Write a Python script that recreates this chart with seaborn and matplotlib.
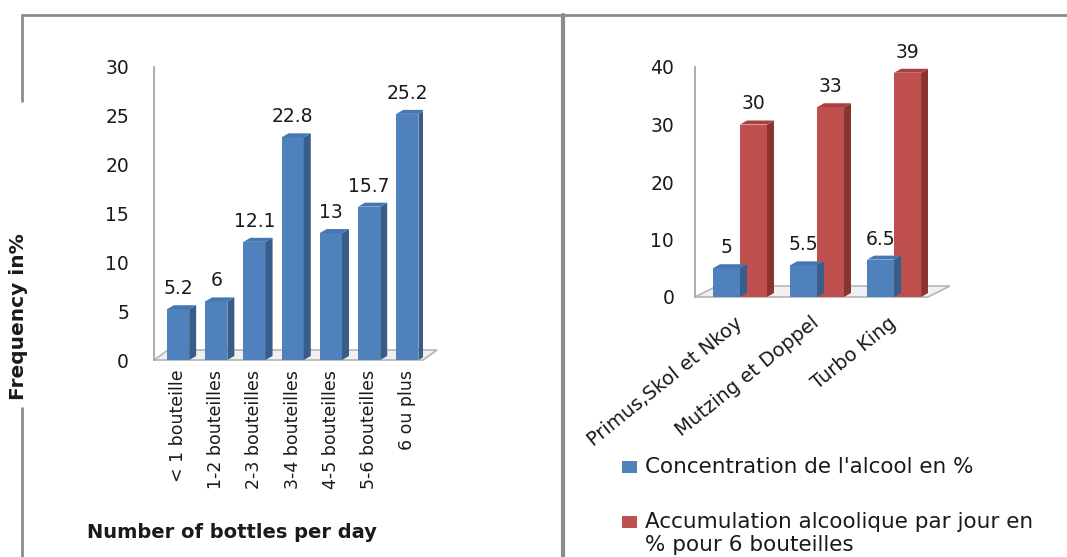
import numpy as np
import pandas as pd
import seaborn as sns
import matplotlib.pyplot as plt
from matplotlib.patches import Polygon, Rectangle
from matplotlib.lines import Line2D

# data
bottle_cats = ["< 1 bouteille", "1-2 bouteilles", "2-3 bouteilles", "3-4 bouteilles",
               "4-5 bouteilles", "5-6 bouteilles", "6 ou plus"]
bottle_freq = [5.2, 6, 12.1, 22.8, 13, 15.7, 25.2]

brands = ["Primus,Skol et Nkoy", "Mutzing et Doppel", "Turbo King"]
concentration = [5, 5.5, 6.5]
accumulation = [30, 33, 39]
series_names = ["Concentration de l'alcool en %",
                "Accumulation alcoolique par jour en\n% pour 6 bouteilles"]

BLUE, BLUE_SIDE, BLUE_TOP = "#4F81BD", "#385D8A", "#4777B0"
RED, RED_SIDE, RED_TOP = "#C0504D", "#8A3432", "#A8413E"
GRID = "#8c8c8c"
TXT = "#1a1a1a"

W, H = 1067, 557
sns.set_theme(style="white")
plt.rcParams['font.family'] = ['DejaVu Sans']

fig = plt.figure(figsize=(W / 100, H / 100), dpi=100)
fig.patch.set_facecolor("white")


def px_axes(x0, y0, x1, y1):
    # pixel box (top-left origin) -> figure axes
    return fig.add_axes([x0 / W, 1 - y1 / H, (x1 - x0) / W, (y1 - y0) / H])


def data_per_px(ax):
    (a, b), (c, d) = ax.transData.transform([(0, 0), (1, 1)])
    return 1 / (c - a), 1 / (d - b)


def add_depth(ax, patches, sides, tops, ddx, ddy):
    ux, uy = data_per_px(ax)
    dx, dy = ddx * ux, ddy * uy
    for p, sc, tc in zip(patches, sides, tops):
        x0, y0, w, h = p.get_x(), p.get_y(), p.get_width(), p.get_height()
        ax.add_patch(Polygon([(x0 + w, y0), (x0 + w + dx, y0 + dy), (x0 + w + dx, y0 + h + dy),
                              (x0 + w, y0 + h)], closed=True, fc=sc, ec="none", zorder=3))
        ax.add_patch(Polygon([(x0, y0 + h), (x0 + w, y0 + h), (x0 + w + dx, y0 + h + dy),
                              (x0 + dx, y0 + h + dy)], closed=True, fc=tc, ec="none", zorder=3))


def add_floor(ax, fdx, fdy):
    ux, uy = data_per_px(ax)
    xa, xb = ax.get_xlim()
    ya = ax.get_ylim()[0]
    dx, dy = fdx * ux, fdy * uy
    ax.add_patch(Polygon([(xa, ya), (xb, ya), (xb + dx, ya + dy), (xa + dx, ya + dy)], closed=True,
                         fc="#f0f0f0", ec="#b5b5b5", lw=1.2, zorder=1, clip_on=False))


def style_axis(ax):
    for s in ["top", "right", "bottom"]:
        ax.spines[s].set_visible(False)
    ax.spines["left"].set_color("#a6a6a6")
    ax.spines["left"].set_linewidth(1.3)
    ax.set_xlabel("")
    ax.set_ylabel("")
    ax.set_facecolor("none")


# left chart
ax1 = px_axes(154, 67, 423, 360)
sns.barplot(x=bottle_cats, y=bottle_freq, color=BLUE, saturation=1, width=0.58, ax=ax1,
            edgecolor="none", zorder=2)
ax1.set_xlim(-0.63, 6.41)
ax1.set_ylim(0, 30)
ax1.set_yticks(range(0, 31, 5))
style_axis(ax1)
ax1.tick_params(axis="y", length=0, pad=18, labelsize=13.5, labelcolor=TXT)
ax1.tick_params(axis="x", length=0, pad=7, labelsize=12.5, labelcolor=TXT)
for lbl in ax1.get_xticklabels():
    lbl.set_rotation(90)
    lbl.set_va("top")
add_floor(ax1, 14, 10)
add_depth(ax1, ax1.patches[:len(bottle_freq)], [BLUE_SIDE] * 7, [BLUE_TOP] * 7, 7, 4)
for c in ax1.containers:
    ax1.bar_label(c, fmt="%g", padding=8, fontsize=13.5, color=TXT)

# right chart
df = pd.DataFrame({
    "brand": brands * 2,
    "series": [series_names[0]] * 3 + [series_names[1]] * 3,
    "value": concentration + accumulation,
})
ax2 = px_axes(695, 67, 928, 297)
sns.barplot(data=df, x="brand", y="value", hue="series", palette=[BLUE, RED], saturation=1,
            width=0.7, ax=ax2, edgecolor="none", legend=False, zorder=2)
ax2.set_xlim(-0.584, 2.44)
ax2.set_ylim(0, 40)
ax2.set_yticks(range(0, 41, 10))
style_axis(ax2)
ax2.tick_params(axis="y", length=0, pad=15, labelsize=13.5, labelcolor=TXT)
ax2.tick_params(axis="x", length=0, pad=17, labelsize=14, labelcolor=TXT)
for lbl in ax2.get_xticklabels():
    lbl.set_rotation(39)
    lbl.set_ha("right")
    lbl.set_va("center")
    lbl.set_rotation_mode("anchor")
add_floor(ax2, 22, 11)
for c, sc, tc in zip(ax2.containers, [BLUE_SIDE, RED_SIDE], [BLUE_TOP, RED_TOP]):
    add_depth(ax2, list(c), [sc] * 3, [tc] * 3, 7, 4)
    ax2.bar_label(c, fmt="%g", padding=8, fontsize=13.5, color=TXT)

# axis titles
fig.text(232 / W, 1 - 533 / H, "Number of bottles per day", ha="center", va="center",
         fontsize=14, fontweight="bold", color=TXT)
fig.text(19 / W, 1 - 317 / H, "Frequency in%", ha="center", va="center", rotation=90,
         fontsize=14.5, fontweight="bold", color=TXT)

# legend
for (cy, col), name in zip([(467, BLUE), (522, RED)], series_names):
    fig.patches.append(Rectangle((622 / W, 1 - (cy + 6) / H), 15 / W, 12 / H, fc=col, ec="none",
                                 transform=fig.transFigure, figure=fig))
    fig.text(645 / W, 1 - (cy - 10) / H, name, ha="left", va="top", fontsize=15.5, color=TXT,
             linespacing=1.2)

# frame lines
def fline(x0, y0, x1, y1, lw):
    fig.lines.append(Line2D([x0 / W, x1 / W], [1 - y0 / H, 1 - y1 / H], color=GRID, lw=lw,
                            transform=fig.transFigure, figure=fig))

fline(22, 15, W, 15, 2)
fline(22, 15, 22, 101, 2)
fline(22, 408, 22, H, 2)
fline(563, 15, 563, H, 3)

fig.savefig("out.png", dpi=100, facecolor="white")
